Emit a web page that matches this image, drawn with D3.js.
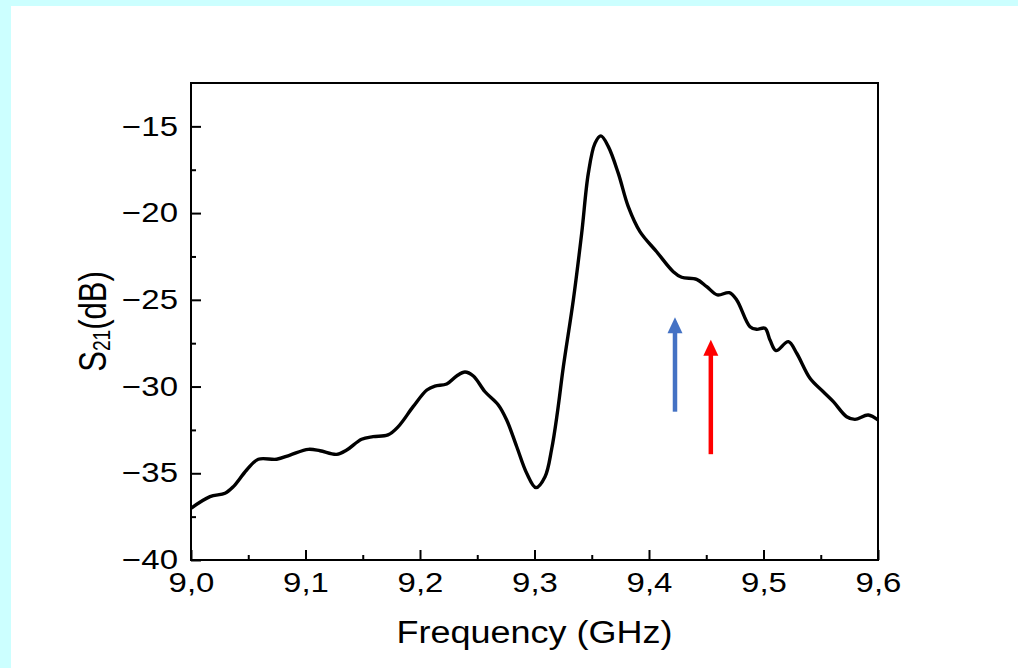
<!DOCTYPE html>
<html>
<head>
<meta charset="utf-8">
<script src="https://d3js.org/d3.v7.min.js"></script>
<style>
  body { margin: 0; background: #fff; }
  text { font-family: "Liberation Sans", Arial, sans-serif; fill: #000; }
</style>
</head>
<body>
<script>
// S21 spectrum
const freq = [9.000, 9.0166, 9.0297, 9.037, 9.0486, 9.0588, 9.0748, 9.0865, 9.1025, 9.1127,
  9.1272, 9.136, 9.149, 9.159, 9.172, 9.181, 9.194, 9.206, 9.213, 9.2233,
  9.232, 9.2393, 9.2466, 9.2568, 9.2684, 9.2757, 9.2845, 9.2932, 9.3013, 9.3092,
  9.315, 9.320, 9.3252, 9.3339, 9.3412, 9.347, 9.3528, 9.358, 9.3645,
  9.3732, 9.3819, 9.3921, 9.4067, 9.4212, 9.4285, 9.4416, 9.4504, 9.4597, 9.4701,
  9.4766, 9.4882, 9.494, 9.5013, 9.5057, 9.5109, 9.5217, 9.529, 9.5406, 9.5522,
  9.561, 9.5726, 9.5799, 9.5915, 9.6];
const s21 = [-37.02, -36.35, -36.15, -35.77, -34.81, -34.19, -34.19, -33.95, -33.62, -33.70,
  -33.91, -33.66, -33.04, -32.89, -32.79, -32.31, -31.16, -30.20, -29.97, -29.85,
  -29.39, -29.16, -29.39, -30.30, -31.06, -31.93, -33.47, -35.00, -35.83, -35.20,
  -33.60, -31.50, -28.86, -25.01, -21.17, -17.71, -15.98, -15.55, -16.17,
  -17.71, -19.63, -21.07, -22.23, -23.38, -23.70, -23.82, -24.24, -24.72, -24.59,
  -25.01, -26.55, -26.70, -26.64, -27.32, -27.93, -27.41, -28.08, -29.52, -30.30,
  -30.87, -31.74, -31.89, -31.64, -31.93];

const xTicks = [9.0, 9.1, 9.2, 9.3, 9.4, 9.5, 9.6];
const xMinor = [9.05, 9.15, 9.25, 9.35, 9.45, 9.55];
const yTicks = [-40, -35, -30, -25, -20, -15];
const yMinor = [-37.5, -32.5, -27.5, -22.5, -17.5];

// arrows: x position, tail, tip (dB)
const arrowX = [9.4227, 9.454];
const arrowTail = [-31.45, -33.9];
const arrowTip = [-26.0, -27.3];
const arrowColor = ['#4472c4', '#ff0000'];

const W = 1018, H = 668;
const svg = d3.select('body').append('svg').attr('width', W).attr('height', H);

svg.append('rect').attr('width', W).attr('height', H).attr('fill', '#ccffff');
svg.append('rect').attr('x', 11).attr('y', 6).attr('width', W - 11).attr('height', H - 6).attr('fill', '#fff');

const x = d3.scaleLinear().domain([9.0, 9.6]).range([191, 878]);
const y = d3.scaleLinear().domain([-40, -12.5]).range([560, 83]);

// stretch text horizontally like the original (it looks widened)
function stretch(sel, k) {
  sel.each(function () {
    const w = this.getComputedTextLength();
    d3.select(this).attr('textLength', w * k).attr('lengthAdjust', 'spacingAndGlyphs');
  });
}

const comma = d => d.toFixed(1).replace('.', ',');

const gx = svg.append('g').attr('transform', 'translate(0,560)')
  .call(d3.axisBottom(x).tickValues(xTicks).tickSize(-10).tickSizeOuter(0).tickPadding(13).tickFormat(comma));
gx.selectAll('text').attr('font-size', 27).attr('font-family', null);
stretch(gx.selectAll('text'), 1.22);

const gxm = svg.append('g').attr('transform', 'translate(0,560)')
  .call(d3.axisBottom(x).tickValues(xMinor).tickSize(-5).tickSizeOuter(0).tickFormat(''));

const gy = svg.append('g').attr('transform', 'translate(191,0)')
  .call(d3.axisLeft(y).tickValues(yTicks).tickSize(-10).tickSizeOuter(0).tickPadding(13).tickFormat(d => d3.format('d')(d).replace('-', '\u2212')));
gy.selectAll('text').attr('font-size', 27).attr('font-family', null);
stretch(gy.selectAll('text'), 1.22);

const gym = svg.append('g').attr('transform', 'translate(191,0)')
  .call(d3.axisLeft(y).tickValues(yMinor).tickSize(-5).tickSizeOuter(0).tickFormat(''));

[gx, gxm, gy, gym].forEach(g => {
  g.select('.domain').remove();
  g.selectAll('line').attr('stroke', '#000').attr('stroke-width', 2);
});

svg.append('rect')
  .attr('x', x(9.0)).attr('y', y(-12.5))
  .attr('width', x(9.6) - x(9.0)).attr('height', y(-40) - y(-12.5))
  .attr('fill', 'none').attr('stroke', '#000').attr('stroke-width', 2);

// curve
const pts = freq.map((f, i) => [f, s21[i]]);
svg.append('path').datum(pts)
  .attr('fill', 'none').attr('stroke', '#000').attr('stroke-width', 3.4)
  .attr('stroke-linejoin', 'round')
  .attr('d', d3.line().x(d => x(d[0])).y(d => y(d[1])).curve(d3.curveCatmullRom.alpha(0.5)));

// arrows
arrowX.forEach((ax, i) => {
  const cx = x(ax), t = y(arrowTip[i]), b = y(arrowTail[i]);
  svg.append('line').attr('x1', cx).attr('x2', cx).attr('y1', b).attr('y2', t + 14)
    .attr('stroke', arrowColor[i]).attr('stroke-width', 4.5);
  svg.append('path')
    .attr('d', `M${cx},${t} L${cx + 7.5},${t + 16} L${cx - 7.5},${t + 16} Z`)
    .attr('fill', arrowColor[i]);
});

// axis titles
const xt = svg.append('text')
  .attr('x', (x(9.0) + x(9.6)) / 2).attr('y', 643)
  .attr('text-anchor', 'middle').attr('font-size', 31)
  .text('Frequency (GHz)');
xt.attr('textLength', 276).attr('lengthAdjust', 'spacingAndGlyphs');

const yt = svg.append('text')
  .attr('transform', `translate(106,${(y(-40) + y(-12.5)) / 2}) scale(1.25,1) rotate(-90)`)
  .attr('text-anchor', 'middle').attr('font-size', 31);
yt.append('tspan').text('S');
yt.append('tspan').attr('font-size', '0.62em').attr('dy', 3).text('21');
yt.append('tspan').attr('dy', -3).text('(dB)');
</script>
</body>
</html>
